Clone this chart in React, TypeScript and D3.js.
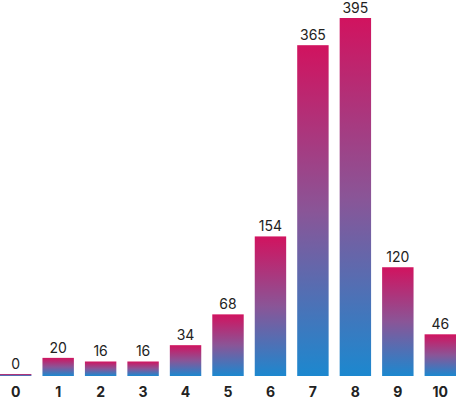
import React, { useEffect, useRef } from "react";
import * as d3 from "d3";

const categories = ["0", "1", "2", "3", "4", "5", "6", "7", "8", "9", "10"];
const counts = [0, 20, 16, 16, 34, 68, 154, 365, 395, 120, 46];

const width = 456;
const height = 399;

export default function App() {
  const svgRef = useRef<SVGSVGElement | null>(null);

  useEffect(() => {
    if (!svgRef.current) return;
    const svg = d3.select(svgRef.current);
    svg.selectAll("*").remove();

    const baseline = 376;
    const x = d3.scaleBand<string>()
      .domain(categories)
      .range([0, width])
      .paddingInner(0.26)
      .paddingOuter(0);
    const y = d3.scaleLinear()
      .domain([0, 395])
      .range([baseline, 18]);

    // one gradient, stretched over each bar's own box
    const grad = svg.append("defs")
      .append("linearGradient")
      .attr("id", "bar-grad")
      .attr("x1", "0%").attr("y1", "0%")
      .attr("x2", "0%").attr("y2", "100%");
    grad.append("stop").attr("offset", "0%").attr("stop-color", "#d1135f");
    grad.append("stop").attr("offset", "50%").attr("stop-color", "#8a5597");
    grad.append("stop").attr("offset", "100%").attr("stop-color", "#1c88cf");

    const data = categories.map((c, i) => ({ c, v: counts[i] }));

    svg.selectAll(".bar")
      .data(data)
      .enter()
      .append("rect")
      .attr("class", "bar")
      .attr("x", d => x(d.c)!)
      .attr("width", x.bandwidth())
      .attr("y", d => Math.min(y(d.v), baseline - 2))
      .attr("height", d => Math.max(baseline - y(d.v), 2))
      .style("fill", "url(#bar-grad)");

    // value labels
    svg.selectAll(".value")
      .data(data)
      .enter()
      .append("text")
      .attr("class", "value")
      .attr("x", d => x(d.c)! + x.bandwidth() / 2)
      .attr("y", d => Math.min(y(d.v), baseline - 2) - 5)
      .attr("text-anchor", "middle")
      .attr("font-family", "Inter, sans-serif")
      .attr("font-size", "14px")
      .attr("fill", "#222")
      .text(d => d.v);

    // category labels
    svg.selectAll(".tick-label")
      .data(categories)
      .enter()
      .append("text")
      .attr("class", "tick-label")
      .attr("x", d => x(d)! + x.bandwidth() / 2)
      .attr("y", 397)
      .attr("text-anchor", "middle")
      .attr("font-family", "Inter, sans-serif")
      .attr("font-size", "14px")
      .attr("font-weight", "bold")
      .attr("fill", "#222")
      .text(d => d);
  }, []);

  return (
    <svg
      ref={svgRef}
      width={width}
      height={height}
      style={{ position: "absolute", left: 0, top: 0, background: "#fff" }}
    />
  );
}
